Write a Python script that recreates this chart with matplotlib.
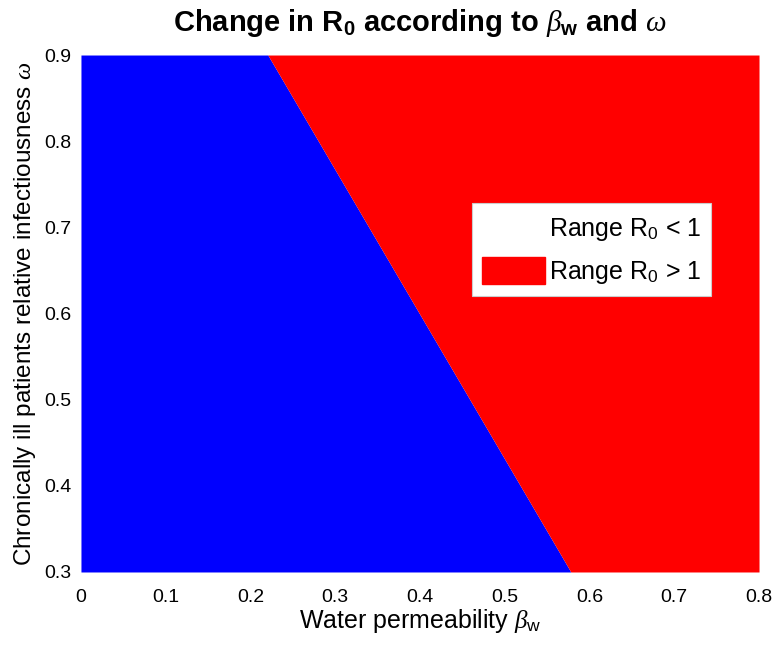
import matplotlib.pyplot as plt
import matplotlib.patches as patches
import numpy as np

plt.rcParams['font.family'] = ['Liberation Sans', 'DejaVu Sans']
plt.rcParams['mathtext.fontset'] = 'custom'
plt.rcParams['mathtext.rm'] = 'Liberation Sans'
plt.rcParams['mathtext.bf'] = 'Liberation Sans:bold'
plt.rcParams['mathtext.it'] = 'Liberation Serif:italic'

# boundary R0 = 1 : critical water permeability for each omega
omega = [0.3, 0.9]
beta_crit = [0.578, 0.2205]
x_min, x_max = 0, 0.8
y_min, y_max = 0.3, 0.9
xticks = [0, 0.1, 0.2, 0.3, 0.4, 0.5, 0.6, 0.7, 0.8]
yticks = [0.3, 0.4, 0.5, 0.6, 0.7, 0.8, 0.9]

fig = plt.figure(figsize=(7.8, 6.48), dpi=100)
ax = fig.add_axes([0.1038, 0.1173, 0.8693, 0.7978])

ax.fill_betweenx(omega, x_min, beta_crit, color='#0000FF', linewidth=0)
ax.fill_betweenx(omega, beta_crit, x_max, color='#FF0000', linewidth=0)

ax.set_xlim(x_min, x_max)
ax.set_ylim(y_min, y_max)
ax.set_xticks(xticks)
ax.set_xticklabels([('%g' % v) for v in xticks])
ax.set_yticks(yticks)
ax.tick_params(length=0, labelsize=14)
ax.tick_params(axis='x', pad=12)
ax.tick_params(axis='y', pad=7)
for s in ax.spines.values():
    s.set_visible(False)

ax.set_xlabel(r'Water permeability $\beta_\mathrm{w}$', fontsize=18, labelpad=1)
ax.set_ylabel(r'Chronically ill patients relative infectiousness $\omega$', fontsize=17.5, labelpad=4)
ax.set_title(r'Change in R$_\mathbf{0}$ according to $\beta_\mathbf{w}$ and $\omega$',
             fontsize=21, fontweight='bold', pad=17)

h1 = patches.Patch(facecolor='white', edgecolor='white')
h2 = patches.Patch(facecolor='#FF0000', edgecolor='#FF0000')
leg = ax.legend([h1, h2], [r'Range R$_\mathrm{0}$ < 1', r'Range R$_\mathrm{0}$ > 1'],
                loc='upper left', bbox_to_anchor=(0.576, 0.713), fontsize=18,
                fancybox=False, framealpha=1, edgecolor='#cccccc',
                handlelength=2.5, handleheight=1.3, borderpad=0.42,
                labelspacing=0.55, handletextpad=0.16, borderaxespad=0)
leg.get_frame().set_linewidth(0.8)

fig.savefig('out.png', dpi=100)
